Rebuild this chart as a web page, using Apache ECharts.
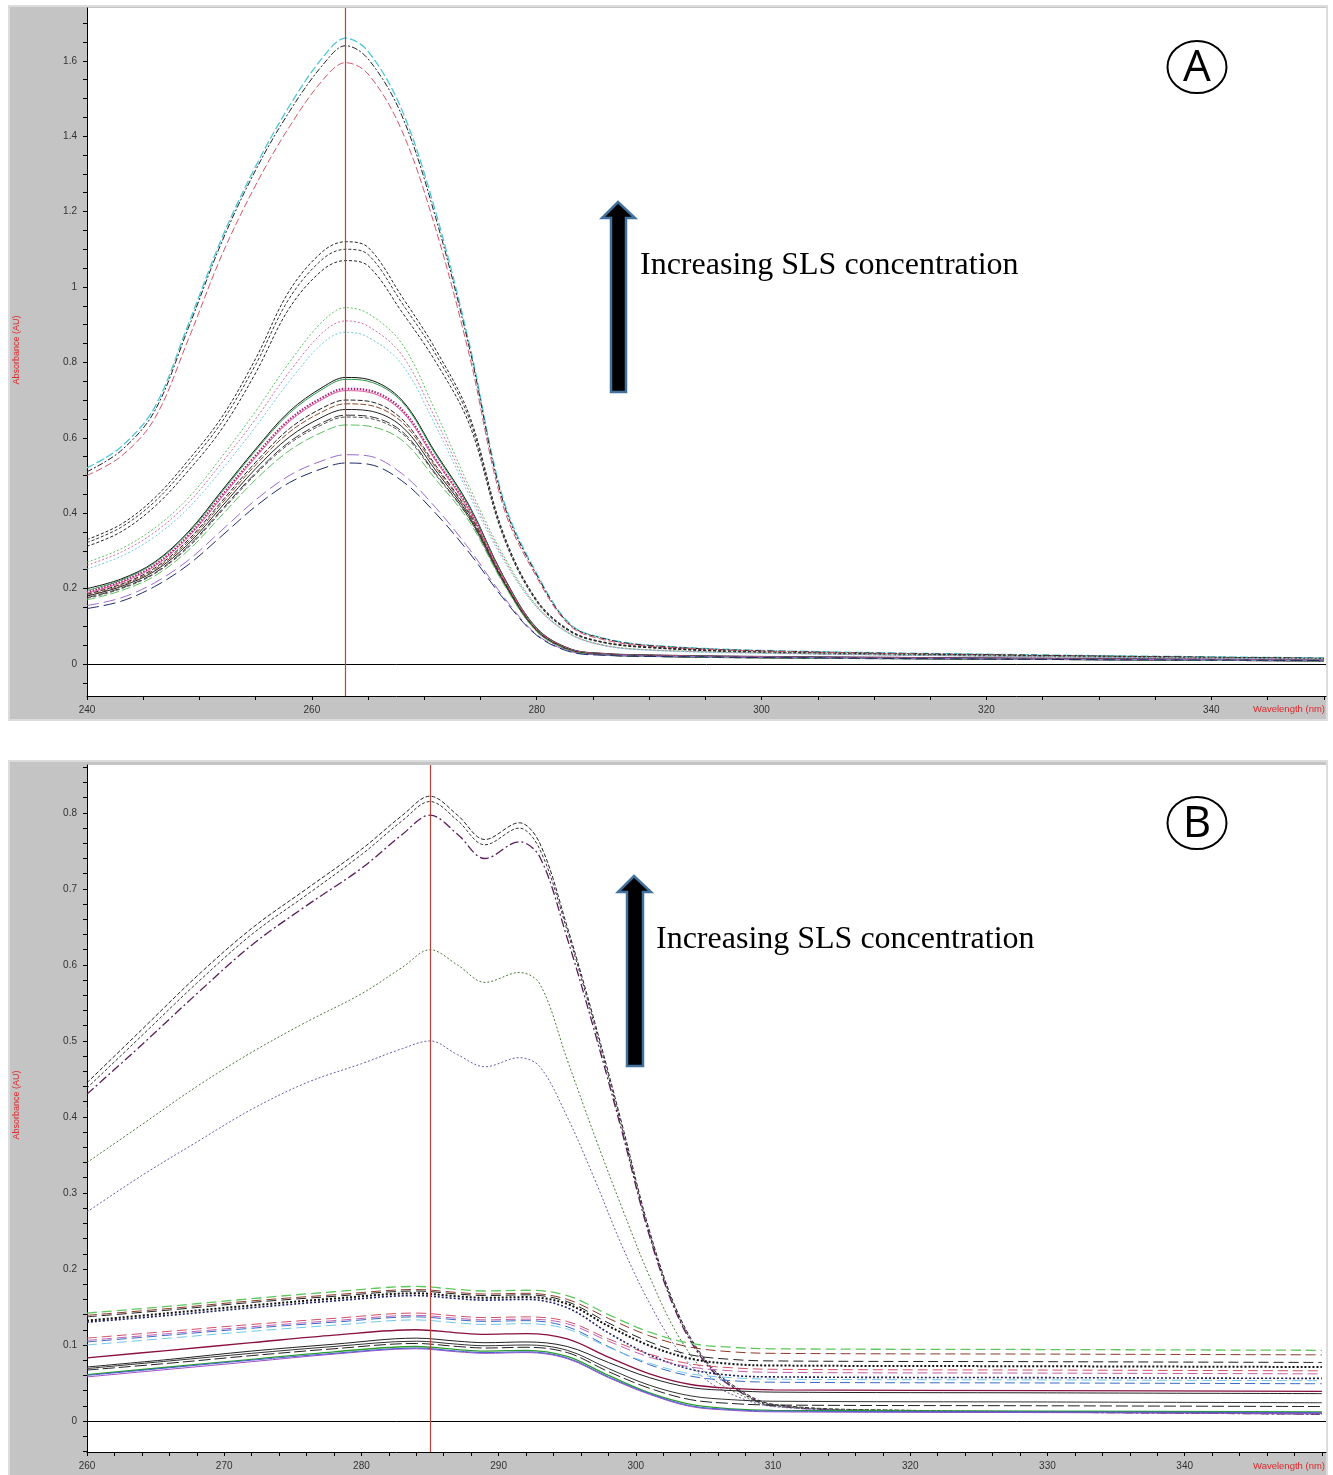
<!DOCTYPE html>
<html>
<head>
<meta charset="utf-8">
<script src="https://cdn.jsdelivr.net/npm/echarts@6/dist/echarts.min.js"></script>
<style>
html,body{margin:0;padding:0;background:#fff}
#chart{width:1333px;height:1475px}
</style>
</head>
<body>
<div id="chart"></div>
<script>
// ---- panel A : 240-350 nm ----
const wlA = [240,243,246,249,252,255,258,261,263,265,268,271,274,277,280,283,286,290,300,325,350]

const aTopCyan  = [.520,.575,.680,.900,1.130,1.320,1.480,1.610,1.660,1.625,1.470,1.200,.850,.440,.240,.105,.068,.050,.036,.024,.016]
const aTopBlack = [.510,.565,.670,.890,1.120,1.310,1.465,1.590,1.640,1.605,1.455,1.185,.840,.432,.236,.103,.067,.049,.035,.023,.015]
const aTopRed   = [.500,.550,.650,.860,1.085,1.270,1.425,1.550,1.595,1.565,1.415,1.155,.820,.420,.230,.100,.064,.047,.034,.022,.014]

const aMid1 = [.330,.370,.440,.540,.655,.810,.990,1.095,1.120,1.105,.975,.835,.660,.350,.170,.088,.058,.045,.032,.022,.015]
const aMid2 = [.322,.362,.430,.528,.642,.794,.970,1.075,1.100,1.086,.958,.822,.650,.346,.168,.087,.057,.044,.031,.021,.014]
const aMid3 = [.312,.350,.417,.512,.624,.772,.944,1.046,1.070,1.056,.934,.802,.636,.340,.165,.085,.056,.043,.030,.020,.014]

const aDot1 = [.270,.305,.360,.440,.550,.670,.800,.910,.945,.930,.850,.670,.470,.290,.155,.080,.050,.038,.030,.020,.014]
const aDot2 = [.262,.296,.349,.427,.534,.650,.775,.880,.910,.896,.820,.650,.458,.284,.152,.079,.049,.037,.029,.019,.013]
const aDot3 = [.252,.285,.337,.413,.516,.629,.750,.852,.880,.867,.795,.632,.447,.278,.150,.078,.048,.036,.028,.019,.013]

const aLow1  = [.200,.225,.270,.350,.460,.570,.670,.735,.760,.755,.700,.560,.420,.235,.095,.040,.028,.024,.020,.015,.010]
const aLow2  = [.195,.222,.268,.347,.456,.566,.665,.730,.755,.750,.696,.556,.417,.233,.094,.039,.027,.023,.019,.014,.010]
const aLow3  = [.190,.218,.262,.340,.447,.553,.648,.708,.730,.726,.675,.543,.410,.230,.092,.038,.026,.022,.018,.014,.009]
const aLow4  = [.188,.215,.259,.336,.442,.548,.643,.703,.725,.721,.670,.540,.407,.228,.091,.038,.026,.022,.018,.013,.009]
const aLow5  = [.185,.211,.254,.329,.432,.535,.624,.680,.700,.697,.650,.527,.400,.225,.090,.037,.025,.021,.017,.013,.009]
const aLow6  = [.182,.208,.250,.324,.426,.528,.615,.670,.690,.687,.642,.522,.397,.223,.089,.037,.025,.021,.017,.013,.009]
const aLow7  = [.180,.205,.246,.318,.418,.518,.602,.656,.675,.672,.630,.514,.392,.221,.088,.036,.025,.021,.017,.012,.008]
const aLow8  = [.176,.201,.241,.312,.410,.507,.589,.641,.660,.657,.617,.505,.387,.219,.087,.036,.024,.020,.016,.012,.008]
const aLow9  = [.174,.199,.239,.309,.406,.503,.584,.636,.655,.652,.612,.502,.385,.218,.087,.035,.024,.020,.016,.012,.008]
const aLow10 = [.170,.194,.233,.301,.395,.489,.566,.616,.634,.631,.594,.490,.378,.215,.086,.035,.024,.020,.016,.012,.008]

const aBase1 = [.155,.175,.215,.275,.355,.435,.500,.540,.555,.552,.505,.415,.305,.180,.078,.033,.024,.021,.018,.013,.010]
const aBase2 = [.147,.166,.205,.263,.340,.418,.481,.519,.533,.530,.486,.400,.295,.175,.076,.032,.023,.020,.017,.012,.009]

const aYLabels = [0,0.2,0.4,0.6,0.8,1,1.2,1.4,1.6]
const aYTicks = [-0.05,0,0.05,0.1,0.15,0.2,0.25,0.3,0.35,0.4,0.45,0.5,0.55,0.6,0.65,0.7,0.75,0.8,0.85,0.9,0.95,1,1.05,1.1,1.15,1.2,1.25,1.3,1.35,1.4,1.45,1.5,1.55,1.6,1.65,1.7]
const aXLabels = [240,260,280,300,320,340]
const aXTicks = [240,245,250,255,260,265,270,275,280,285,290,295,300,305,310,315,320,325,330,335,340,345,350]

// ---- panel B : 260-350 nm ----
const wlB = [260,264,268,272,276,280,283,285,287,289,291.5,293,295,297,299,301,303,305,307,310,320,335,350]

const bTop1   = [.445,.515,.585,.648,.700,.752,.797,.822,.797,.765,.787,.760,.650,.525,.390,.250,.145,.082,.048,.022,.014,.012,.010]
const bTop2   = [.438,.507,.576,.640,.692,.745,.790,.815,.790,.758,.780,.752,.645,.520,.385,.246,.142,.080,.046,.021,.013,.011,.009]
const bTop3   = [.430,.495,.562,.626,.678,.727,.772,.797,.772,.740,.762,.742,.635,.512,.380,.243,.140,.078,.045,.020,.013,.011,.009]
const bGreen  = [.340,.390,.440,.485,.525,.562,.597,.620,.600,.577,.590,.575,.475,.375,.280,.190,.115,.065,.040,.020,.014,.012,.010]
const bViolet = [.275,.323,.367,.410,.445,.470,.490,.500,.482,.466,.478,.466,.400,.318,.230,.155,.095,.056,.035,.019,.013,.011,.009]

const wlBlow = [260,266,272,278,284,287,289,292,295,298,301,304,307,310,330,350]
const bLow1  = [.142,.151,.161,.170,.177,.173,.171,.172,.165,.140,.117,.102,.097,.095,.094,.093]
const bLow2  = [.139,.148,.158,.166,.173,.169,.167,.168,.160,.135,.112,.097,.091,.089,.088,.087]
const bLow3  = [.137,.146,.156,.164,.171,.167,.165,.166,.157,.129,.104,.087,.081,.079,.078,.077]
const bLow4  = [.132,.142,.152,.161,.168,.164,.162,.163,.154,.125,.099,.082,.075,.073,.072,.071]
const bLow5  = [.130,.139,.149,.158,.165,.161,.159,.160,.149,.116,.087,.068,.060,.058,.057,.056]
const bLow6  = [.109,.118,.127,.135,.142,.138,.136,.137,.131,.108,.088,.075,.070,.068,.067,.066]
const bLow7  = [.106,.115,.124,.132,.139,.135,.133,.134,.128,.105,.084,.071,.066,.064,.063,.062]
const bLow8  = [.104,.113,.122,.130,.137,.133,.131,.132,.124,.098,.074,.059,.053,.051,.050,.049]
const bLow9  = [.100,.109,.118,.126,.133,.129,.127,.128,.121,.097,.076,.062,.057,.055,.054,.053]
const bLow10 = [.083,.093,.103,.113,.120,.116,.114,.115,.108,.084,.062,.048,.043,.041,.040,.039]
const bLow11 = [.071,.081,.092,.101,.109,.105,.103,.104,.098,.077,.057,.044,.040,.038,.037,.036]
const bLow12 = [.067,.076,.086,.095,.102,.098,.096,.097,.090,.065,.043,.028,.023,.021,.020,.019]
const bLow13 = [.069,.079,.089,.098,.105,.101,.099,.100,.093,.069,.047,.033,.028,.026,.025,.024]
const bLow14 = [.061,.071,.081,.091,.098,.094,.092,.093,.085,.060,.037,.022,.016,.014,.013,.012]
const bLow15 = [.058,.068,.078,.088,.095,.091,.089,.090,.082,.057,.035,.019,.014,.012,.011,.010]
const bLow16 = [.060,.070,.080,.089,.096,.092,.090,.091,.083,.058,.036,.020,.015,.013,.012,.011]

const bYLabels = [0,0.1,0.2,0.3,0.4,0.5,0.6,0.7,0.8]
const bYTicks = [-0.04,-0.02,0,0.02,0.04,0.06,0.08,0.1,0.12,0.14,0.16,0.18,0.2,0.22,0.24,0.26,0.28,0.3,0.32,0.34,0.36,0.38,0.4,0.42,0.44,0.46,0.48,0.5,0.52,0.54,0.56,0.58,0.6,0.62,0.64,0.66,0.68,0.7,0.72,0.74,0.76,0.78,0.8,0.82,0.84,0.86]
const bXLabels = [260,270,280,290,300,310,320,330,340]
const bXTicks = [260,262,264,266,268,270,272,274,276,278,280,282,284,286,288,290,292,294,296,298,300,302,304,306,308,310,312,314,316,318,320,322,324,326,328,330,332,334,336,338,340,342,344,346,348,350]

const peakA = 263
const peakB = 285

// line looks, one per curve
const linesA = [
    {x:wlA, y:aTopCyan,  color:"#4fc6d8", dash:[8,3], width:1.3},
    {x:wlA, y:aTopBlack, color:"#222", dash:[6,2,2,2]},
    {x:wlA, y:aTopRed,   color:"#d9536a", dash:[7,3]},
    {x:wlA, y:aMid1, color:"#222", dash:[3,2]},
    {x:wlA, y:aMid2, color:"#333", dash:[3,2]},
    {x:wlA, y:aMid3, color:"#222", dash:[3,2]},
    {x:wlA, y:aDot1, color:"#5cc45c", dash:[2,2]},
    {x:wlA, y:aDot2, color:"#d86aa8", dash:[2,2]},
    {x:wlA, y:aDot3, color:"#6ccbe0", dash:[2,2]},
    {x:wlA, y:aLow1, color:"#111", dash:"solid"},
    {x:wlA, y:aLow2, color:"#2a9a4a", dash:"solid"},
    {x:wlA, y:aLow3, color:"#b0207a", dash:[1.5,1.5], width:2.2},
    {x:wlA, y:aLow4, color:"#e05a9a", dash:"solid"},
    {x:wlA, y:aLow5, color:"#222", dash:[5,2]},
    {x:wlA, y:aLow6, color:"#8a4a2a", dash:[6,2]},
    {x:wlA, y:aLow7, color:"#222", dash:"solid"},
    {x:wlA, y:aLow8, color:"#333", dash:[9,3]},
    {x:wlA, y:aLow9, color:"#555", dash:[4,2]},
    {x:wlA, y:aLow10, color:"#5cc05c", dash:[9,3]},
    {x:wlA, y:aBase1, color:"#9a6ad0", dash:[12,5]},
    {x:wlA, y:aBase2, color:"#1e2a6a", dash:[12,5]}
]

const linesB = [
    {x:wlB, y:bTop1, color:"#222", dash:[4,2]},
    {x:wlB, y:bTop2, color:"#333", dash:[3,2]},
    {x:wlB, y:bTop3, color:"#5a1e5a", dash:[9,3,2,3], width:1.3},
    {x:wlB, y:bGreen, color:"#4a7a3a", dash:[2,2]},
    {x:wlB, y:bViolet, color:"#6a5aa8", dash:[2,2]},
    {x:wlBlow, y:bLow1, color:"#5ec85e", dash:[10,5], width:1.3},
    {x:wlBlow, y:bLow2, color:"#8b3a2a", dash:[10,5]},
    {x:wlBlow, y:bLow3, color:"#222", dash:[10,5]},
    {x:wlBlow, y:bLow4, color:"#111", dash:[2,2], width:2},
    {x:wlBlow, y:bLow5, color:"#202068", dash:[2,2], width:1.6},
    {x:wlBlow, y:bLow6, color:"#d0506a", dash:[10,5]},
    {x:wlBlow, y:bLow7, color:"#c060b0", dash:[10,5]},
    {x:wlBlow, y:bLow8, color:"#3a6ac8", dash:[10,5]},
    {x:wlBlow, y:bLow9, color:"#70c8e8", dash:[10,5]},
    {x:wlBlow, y:bLow10, color:"#8a1040", dash:"solid", width:1.3},
    {x:wlBlow, y:bLow11, color:"#222", dash:"solid"},
    {x:wlBlow, y:bLow12, color:"#222", dash:[12,4]},
    {x:wlBlow, y:bLow13, color:"#333", dash:"solid"},
    {x:wlBlow, y:bLow14, color:"#2aa02a", dash:"solid", width:1.3},
    {x:wlBlow, y:bLow15, color:"#a050c8", dash:"solid"},
    {x:wlBlow, y:bLow16, color:"#4a60d0", dash:"solid"}
]

const pairs = (xs, ys) => xs.map((x, i) => [x, ys[i]])

const makeSeries = (lines, idx, peak) => lines.map((l, i) => {
    const s = {
        type: "line",
        xAxisIndex: idx,
        yAxisIndex: idx,
        data: pairs(l.x, l.y),
        smooth: 0.35,
        showSymbol: false,
        silent: true,
        lineStyle: {color: l.color, width: l.width || 1, type: l.dash}
    }
    if (i === 0) {
        s.markLine = {
            silent: true,
            symbol: "none",
            label: {show: false},
            animation: false,
            data: [
                {yAxis: 0, lineStyle: {color: "#000", width: 1, type: "solid"}},
                {xAxis: peak, lineStyle: {color: "#b8443c", width: 1.2, type: "solid"}}
            ]
        }
    }
    return s
})

const axisFont = {color: "#333", fontSize: 10, fontFamily: "Liberation Sans"}

const xAxisOf = (idx, min, max, labels, ticks) => ({
    type: "value", gridIndex: idx, min: min, max: max,
    axisLine: {show: true, onZero: false, lineStyle: {color: "#000", width: 1}},
    axisTick: {show: true, length: 4, customValues: ticks, lineStyle: {color: "#000"}},
    axisLabel: Object.assign({customValues: labels, margin: 9}, axisFont),
    splitLine: {show: false}
})

const yAxisOf = (idx, min, max, labels, ticks) => ({
    type: "value", gridIndex: idx, min: min, max: max,
    axisLine: {show: true, onZero: false, lineStyle: {color: "#000", width: 1}},
    axisTick: {show: true, length: 4, customValues: ticks, lineStyle: {color: "#000"}},
    axisLabel: Object.assign({customValues: labels, margin: 10}, axisFont),
    splitLine: {show: false}
})

const arrow = (pts) => ({
    type: "polygon", z: 100,
    shape: {points: pts},
    style: {fill: "#000", stroke: "#41719c", lineWidth: 2.5}
})

const bigText = (x, y) => ({
    type: "text", z: 100, x: x, y: y,
    style: {text: "Increasing SLS concentration", fill: "#000",
        font: "32px 'Liberation Serif', 'Times New Roman', serif",
        textAlign: "left", textVerticalAlign: "middle"}
})

const badge = (cx, cy, letter) => ([
    {type: "ellipse", z: 100, shape: {cx: cx, cy: cy, rx: 29.5, ry: 26},
        style: {fill: "#fff", stroke: "#000", lineWidth: 2}},
    {type: "text", z: 101, x: cx, y: cy + 1,
        style: {text: letter, fill: "#000", font: "44px 'Open Sans', 'DejaVu Sans', sans-serif",
            textAlign: "center", textVerticalAlign: "middle"}}
])

const frame = (top, h) => ({
    type: "rect", z: -10, silent: true,
    shape: {x: 9, y: top, width: 1318, height: h},
    style: {fill: "#c4c4c4", stroke: "#dcdcdc", lineWidth: 2}
})

const absLabel = (y) => ({
    type: "text", z: 100, x: 17, y: y, rotation: Math.PI / 2,
    style: {text: "Absorbance (AU)", fill: "#e0262a", font: "9px 'Liberation Sans', sans-serif",
        textAlign: "center", textVerticalAlign: "middle"}
})

const wlLabel = (y) => ({
    type: "text", z: 100, x: 1325, y: y,
    style: {text: "Wavelength (nm)", fill: "#e0262a", font: "9.5px 'Liberation Sans', sans-serif",
        textAlign: "right", textVerticalAlign: "middle"}
})

const chart = echarts.init(document.getElementById("chart"))

chart.setOption({
    animation: false,
    backgroundColor: "#fff",
    grid: [
        {left: 87, top: 8, width: 1239, height: 688, show: true, backgroundColor: "#fff", borderWidth: 0},
        {left: 87, top: 765, width: 1239, height: 687, show: true, backgroundColor: "#fff", borderWidth: 0}
    ],
    xAxis: [
        xAxisOf(0, 240, 350.2, aXLabels, aXTicks),
        xAxisOf(1, 260, 350.3, bXLabels, bXTicks)
    ],
    yAxis: [
        yAxisOf(0, -0.085, 1.74, aYLabels, aYTicks),
        yAxisOf(1, -0.0408, 0.863, bYLabels, bYTicks)
    ],
    series: makeSeries(linesA, 0, peakA).concat(makeSeries(linesB, 1, peakB)),
    graphic: [
        frame(6, 714),
        frame(761, 716),
        absLabel(350),
        absLabel(1105),
        wlLabel(709),
        wlLabel(1466),
        arrow([[611,392],[611,218],[602,218],[618,202],[635,218],[626,218],[626,392]]),
        arrow([[627,1066],[627,892],[618,892],[634,876],[651,892],[643,892],[643,1066]]),
        bigText(640, 266),
        bigText(656, 940)
    ].concat(badge(1197, 67, "A"), badge(1197, 823, "B"))
})
</script>
</body>
</html>
